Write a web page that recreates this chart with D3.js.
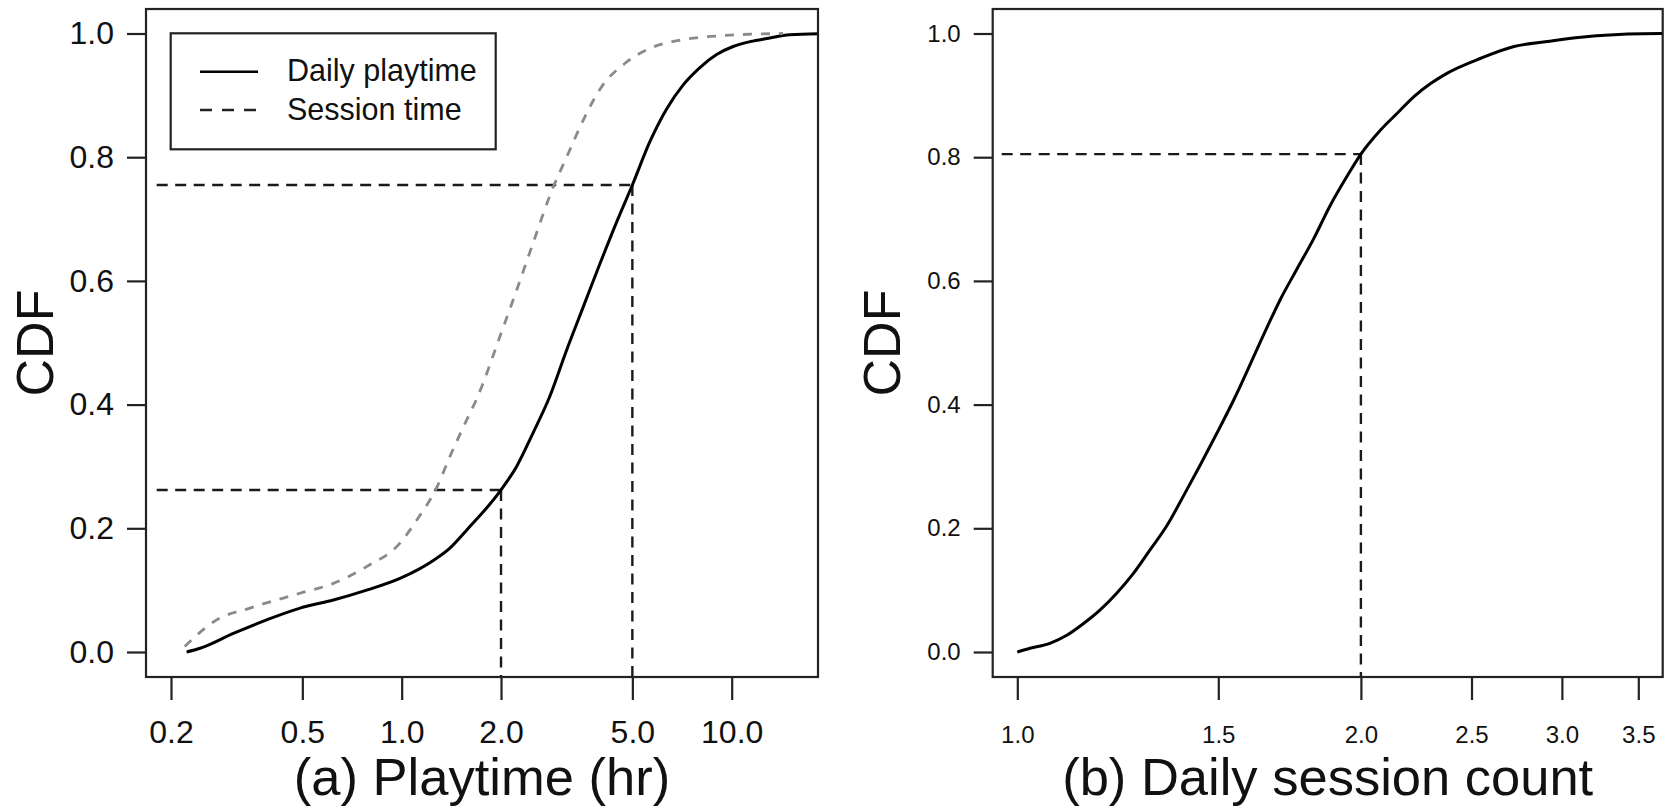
<!DOCTYPE html>
<html>
<head>
<meta charset="utf-8">
<script src="https://cdn.jsdelivr.net/npm/d3@7"></script>
<style>
  body { margin: 0; background: #fff; }
  svg { display: block; font-family: "Liberation Sans", Arial, Helvetica, sans-serif; }
</style>
</head>
<body>
<svg id="chart" width="1665" height="808"></svg>
<script>
// (a) daily playtime CDF, hours
const playtimeX = [0.223, 0.245, 0.309, 0.390, 0.492, 0.621, 0.783, 0.988, 1.247, 1.40, 1.573, 2.0, 2.23, 2.50, 2.81, 3.16, 3.55, 3.99, 4.48, 5.0, 5.65, 6.35, 7.13, 8.01, 9.0, 10.1, 11.4, 12.8, 15.0, 20];
const playtimeY = [0, 0.006, 0.030, 0.052, 0.071, 0.084, 0.100, 0.119, 0.148, 0.168, 0.197, 0.262, 0.300, 0.354, 0.413, 0.488, 0.558, 0.628, 0.695, 0.755, 0.825, 0.878, 0.917, 0.945, 0.966, 0.979, 0.987, 0.992, 0.998, 1.0];

// (a) session time CDF, hours
const sessionX = [0.220, 0.275, 0.347, 0.492, 0.621, 0.783, 0.988, 1.11, 1.28, 1.40, 1.573, 1.69, 2.0, 2.23, 2.50, 2.88, 3.16, 3.55, 3.99, 4.81, 5.65, 7.13, 9.0, 14.3];
const sessionY = [0.009, 0.052, 0.071, 0.095, 0.111, 0.138, 0.176, 0.213, 0.267, 0.316, 0.375, 0.410, 0.515, 0.585, 0.661, 0.752, 0.800, 0.860, 0.910, 0.954, 0.976, 0.990, 0.996, 1.0];

// (b) daily session count CDF
const countX = [1.0, 1.026, 1.068, 1.105, 1.143, 1.182, 1.222, 1.264, 1.307, 1.352, 1.398, 1.446, 1.496, 1.547, 1.655, 1.70, 1.759, 1.818, 1.88, 1.946, 2.0, 2.081, 2.152, 2.226, 2.302, 2.381, 2.547, 2.724, 2.914, 3.117, 3.334, 3.53, 3.8];
const countY = [0, 0.006, 0.014, 0.027, 0.046, 0.068, 0.095, 0.127, 0.165, 0.204, 0.252, 0.302, 0.354, 0.407, 0.525, 0.570, 0.620, 0.668, 0.722, 0.770, 0.805, 0.844, 0.871, 0.898, 0.919, 0.936, 0.960, 0.979, 0.987, 0.994, 0.998, 0.9995, 1.0];

// tick labels
const yTicks = [0, 0.2, 0.4, 0.6, 0.8, 1.0];
const xTicksA = [0.2, 0.5, 1.0, 2.0, 5.0, 10.0];
const xTicksB = [1.0, 1.5, 2.0, 2.5, 3.0, 3.5];

// dashed guide lines: [x, y]
const guidesA = [[2.0, 0.262], [5.0, 0.755]];
const guidesB = [[2.0, 0.805]];

const legendLabels = ["Daily playtime", "Session time"];

const svg = d3.select("#chart");

function panel({ id, box, xDomain, xRange, xTicks, tickFont, tickPadX, series, guides, guideStart, xTitle, cdfX }) {
  const x = d3.scaleLog().domain(xDomain).range(xRange);
  const y = d3.scaleLinear().domain([0, 1]).range([652, 33.5]);

  const g = svg.append("g");

  g.append("clipPath").attr("id", "clip-" + id)
    .append("rect")
    .attr("x", box.left).attr("y", box.top)
    .attr("width", box.right - box.left).attr("height", box.bottom - box.top);

  const plot = g.append("g").attr("clip-path", `url(#clip-${id})`);

  // guides
  guides.forEach(([gx, gy]) => {
    plot.append("line")
      .attr("x1", x(guideStart)).attr("x2", x(gx))
      .attr("y1", y(gy)).attr("y2", y(gy))
      .attr("stroke", "#1a1a1a").attr("stroke-width", 2.4)
      .attr("stroke-dasharray", "11,7.5");
    plot.append("line")
      .attr("x1", x(gx)).attr("x2", x(gx))
      .attr("y1", y(gy)).attr("y2", box.bottom)
      .attr("stroke", "#1a1a1a").attr("stroke-width", 2.4)
      .attr("stroke-dasharray", "11,7.5");
  });

  const line = d3.line()
    .x((d) => x(d[0]))
    .y((d) => y(d[1]))
    .curve(d3.curveMonotoneX);

  series.forEach((s) => {
    plot.append("path")
      .datum(d3.zip(s.xs, s.ys))
      .attr("d", line)
      .attr("fill", "none")
      .attr("stroke", s.color)
      .attr("stroke-width", s.width)
      .attr("stroke-dasharray", s.dash);
  });

  // box
  g.append("rect")
    .attr("x", box.left).attr("y", box.top)
    .attr("width", box.right - box.left).attr("height", box.bottom - box.top)
    .attr("fill", "none").attr("stroke", "#222").attr("stroke-width", 2.2);

  const fmt = d3.format(".1f");

  g.append("g")
    .attr("transform", `translate(${box.left},0)`)
    .call(d3.axisLeft(y).tickValues(yTicks).tickFormat(fmt).tickSize(19).tickPadding(13))
    .call((a) => a.select(".domain").remove())
    .call((a) => a.selectAll(".tick line").attr("stroke", "#222").attr("stroke-width", 2.2))
    .call((a) => a.selectAll(".tick text")
      .attr("font-family", null).attr("font-size", tickFont).attr("fill", "#111"));

  g.append("g")
    .attr("transform", `translate(0,${box.bottom})`)
    .call(d3.axisBottom(x).tickValues(xTicks).tickFormat(fmt).tickSize(23).tickPadding(tickPadX))
    .call((a) => a.select(".domain").remove())
    .call((a) => a.selectAll(".tick line").attr("stroke", "#222").attr("stroke-width", 2.2))
    .call((a) => a.selectAll(".tick text")
      .attr("font-family", null).attr("font-size", tickFont).attr("fill", "#111"));

  g.append("text")
    .attr("x", (box.left + box.right) / 2).attr("y", 795)
    .attr("text-anchor", "middle").attr("font-size", 52.5).attr("fill", "#111")
    .text(xTitle);

  g.append("text")
    .attr("transform", `translate(${cdfX},${(box.top + box.bottom) / 2}) rotate(-90)`)
    .attr("text-anchor", "middle").attr("font-size", 52).attr("fill", "#111")
    .text("CDF");

  return { x, y, g };
}

panel({
  id: "a",
  box: { left: 146, right: 818, top: 9, bottom: 677 },
  xDomain: [0.2, 10], xRange: [171, 731.7],
  xTicks: xTicksA, tickFont: 32, tickPadX: 20,
  series: [
    { xs: playtimeX, ys: playtimeY, color: "#000", width: 3, dash: null },
    { xs: sessionX, ys: sessionY, color: "#8a8a8a", width: 2.8, dash: "9,9" },
  ],
  guides: guidesA, guideStart: 0.181,
  xTitle: "(a) Playtime (hr)", cdfX: 53,
});

panel({
  id: "b",
  box: { left: 992.7, right: 1662.7, top: 9, bottom: 677 },
  xDomain: [1, 3.5], xRange: [1017.3, 1638.3],
  xTicks: xTicksB, tickFont: 24, tickPadX: 26,
  series: [
    { xs: countX, ys: countY, color: "#000", width: 3, dash: null },
  ],
  guides: guidesB, guideStart: 0.969,
  xTitle: "(b) Daily session count", cdfX: 900,
});

// legend for panel (a)
const legend = svg.append("g");
legend.append("rect")
  .attr("x", 170.7).attr("y", 33.3).attr("width", 325).attr("height", 116)
  .attr("fill", "#fff").attr("stroke", "#222").attr("stroke-width", 2.2);

const legendStyles = [
  { color: "#000", dash: null },
  { color: "#222", dash: "12,10" },
];

legendLabels.forEach((label, i) => {
  const ly = 71.7 + i * 38.3;
  legend.append("line")
    .attr("x1", 200).attr("x2", 258).attr("y1", ly).attr("y2", ly)
    .attr("stroke", legendStyles[i].color).attr("stroke-width", 2.4)
    .attr("stroke-dasharray", legendStyles[i].dash);
  legend.append("text")
    .attr("x", 287).attr("y", ly).attr("dy", "0.32em")
    .attr("font-size", 30.5).attr("fill", "#111")
    .text(label);
});
</script>
</body>
</html>
